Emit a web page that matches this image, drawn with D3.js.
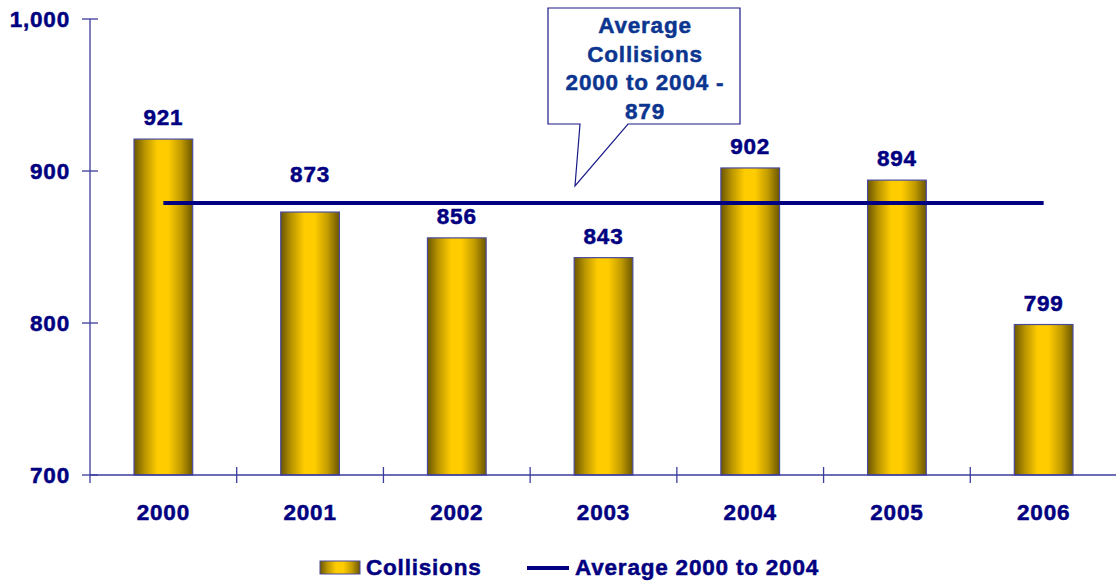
<!DOCTYPE html>
<html>
<head>
<meta charset="utf-8">
<script src="https://cdn.jsdelivr.net/npm/d3@7"></script>
<style>
  html, body { margin: 0; padding: 0; background: #ffffff; }
  svg { display: block; }
  text { font-family: "Liberation Sans", Arial, sans-serif; font-weight: bold; stroke-width: 0.5px; }
</style>
</head>
<body>
<svg id="chart" width="1116" height="584"></svg>
<script>
// Collisions per year
const years = ["2000", "2001", "2002", "2003", "2004", "2005", "2006"];
const collisions = [921, 873, 856, 843, 902, 894, 799];
// Average of 2000 to 2004
const averageValue = 879;
const yTicks = [700, 800, 900, 1000];
const calloutLines = ["Average", "Collisions", "2000 to 2004 -", "879"];
const legendLabels = ["Collisions", "Average 2000 to 2004"];

(function () {
const svg = d3.select("#chart");
const plotLeft = 90, plotRight = 1117, plotTop = 19, plotBottom = 475;

const axisColor = "#3c3c9c";
const labelColor = "#000080";
const lineColor = "#000080";
const FS = 22.5, LS = 0.8;

const x = d3.scaleBand().domain(years).range([plotLeft, plotRight])
  .paddingInner(0.6).paddingOuter(0.3);
const y = d3.scaleLinear().domain([700, 1000]).range([plotBottom, plotTop]);
const step = x.step();

function label(sel, color) {
  return sel.attr("font-size", FS).attr("letter-spacing", LS)
    .attr("fill", color).attr("stroke", color);
}

// Cylinder-like gold gradient for the bars
const defs = svg.append("defs");
const grad = defs.append("linearGradient").attr("id", "gold")
  .attr("x1", "0%").attr("x2", "100%").attr("y1", "0%").attr("y2", "0%");
[[0, "#6b5600"], [0.18, "#b89400"], [0.4, "#ffcc00"], [0.58, "#ffcc00"], [0.8, "#c29c00"], [1, "#6b5600"]]
  .forEach(([o, c]) => grad.append("stop").attr("offset", o).attr("stop-color", c));

// Bars
svg.append("g").selectAll("rect").data(years).join("rect")
  .attr("x", d => x(d))
  .attr("y", (d, i) => y(collisions[i]))
  .attr("width", x.bandwidth())
  .attr("height", (d, i) => y(700) - y(collisions[i]))
  .attr("fill", "url(#gold)")
  .attr("stroke", "#4b4b9e")
  .attr("stroke-width", 1.2);

// Y axis
const yAxis = svg.append("g");
yAxis.append("line").attr("x1", plotLeft).attr("x2", plotLeft).attr("y1", plotTop).attr("y2", plotBottom + 8)
  .attr("stroke", axisColor).attr("stroke-width", 1.3);
yAxis.selectAll("line.tick").data(yTicks).join("line").attr("class", "tick")
  .attr("x1", plotLeft - 8).attr("x2", plotLeft + 8)
  .attr("y1", d => y(d)).attr("y2", d => y(d))
  .attr("stroke", axisColor).attr("stroke-width", 1.3);
label(yAxis.selectAll("text").data(yTicks).join("text")
  .attr("x", 70).attr("y", d => y(d)).attr("dy", "0.36em")
  .attr("text-anchor", "end"), labelColor)
  .text(d => d3.format(",")(d));

// X axis
const xAxis = svg.append("g");
xAxis.append("line").attr("x1", plotLeft).attr("x2", plotRight).attr("y1", plotBottom).attr("y2", plotBottom)
  .attr("stroke", axisColor).attr("stroke-width", 1.3);
xAxis.selectAll("line.tick").data(d3.range(1, years.length + 1)).join("line").attr("class", "tick")
  .attr("x1", i => plotLeft + i * step).attr("x2", i => plotLeft + i * step)
  .attr("y1", plotBottom - 8).attr("y2", plotBottom + 8)
  .attr("stroke", axisColor).attr("stroke-width", 1.3);
label(xAxis.selectAll("text").data(years).join("text")
  .attr("x", d => x(d) + x.bandwidth() / 2).attr("y", 512).attr("dy", "0.36em")
  .attr("text-anchor", "middle"), labelColor)
  .text(d => d);

// Average line across the category centres
const cx = d => x(d) + x.bandwidth() / 2;
svg.append("line")
  .attr("x1", cx(years[0])).attr("x2", cx(years[years.length - 1]))
  .attr("y1", y(averageValue)).attr("y2", y(averageValue))
  .attr("stroke", lineColor).attr("stroke-width", 4);

// Value labels above bars; a label that would sit just on top of the
// average line is lifted clear of it
const avgY = y(averageValue);
label(svg.append("g").selectAll("text").data(years).join("text")
  .attr("x", d => cx(d))
  .attr("y", (d, i) => {
    let c = y(collisions[i]) - 22;
    if (c < avgY && avgY - c < 16) c = avgY - 29;
    return c;
  })
  .attr("dy", "0.36em")
  .attr("text-anchor", "middle"), labelColor)
  .text((d, i) => collisions[i]);

// Callout box with pointer
const box = { x0: 548, x1: 740, y0: 8, y1: 124 };
const tip = [575, 186];
const calloutPath = d3.path();
calloutPath.moveTo(box.x0, box.y0);
calloutPath.lineTo(box.x1, box.y0);
calloutPath.lineTo(box.x1, box.y1);
calloutPath.lineTo(628, box.y1);
calloutPath.lineTo(tip[0], tip[1]);
calloutPath.lineTo(580, box.y1);
calloutPath.lineTo(box.x0, box.y1);
calloutPath.closePath();
svg.append("path").attr("d", calloutPath.toString())
  .attr("fill", "#ffffff").attr("stroke", "#1a1a88").attr("stroke-width", 1.2);
label(svg.append("g").selectAll("text").data(calloutLines).join("text")
  .attr("x", 645).attr("y", (d, i) => 25 + i * 28.5).attr("dy", "0.36em")
  .attr("text-anchor", "middle"), "#0c3590")
  .text(d => d);

// Legend
const legend = svg.append("g");
legend.append("rect").attr("x", 320).attr("y", 561).attr("width", 40).attr("height", 13)
  .attr("fill", "url(#gold)").attr("stroke", "#4b4b9e").attr("stroke-width", 1);
label(legend.append("text").attr("x", 366).attr("y", 567).attr("dy", "0.36em"), labelColor)
  .text(legendLabels[0]);
legend.append("line").attr("x1", 527).attr("x2", 569).attr("y1", 568).attr("y2", 568)
  .attr("stroke", lineColor).attr("stroke-width", 4);
label(legend.append("text").attr("x", 575).attr("y", 567).attr("dy", "0.36em"), labelColor)
  .text(legendLabels[1]);
})();
</script>
</body>
</html>
